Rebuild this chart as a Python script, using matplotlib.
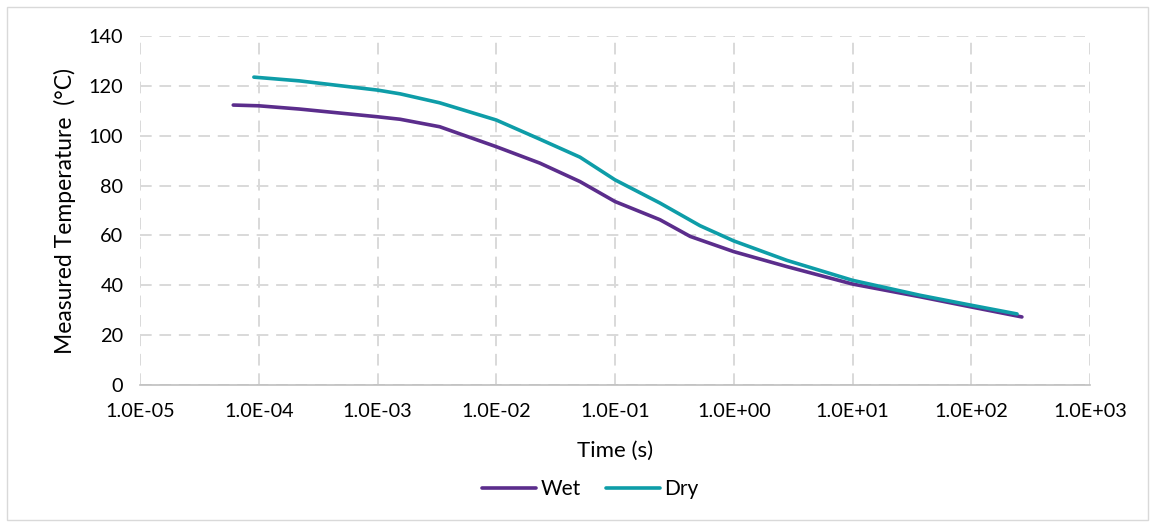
import matplotlib.pyplot as plt
from matplotlib.ticker import FixedLocator, FuncFormatter
from matplotlib.patches import Rectangle

plt.rcParams['font.family'] = ['Lato', 'DejaVu Sans']

# values
wet_time = [6.1e-5, 1e-4, 2.2e-4, 1e-3, 1.55e-3, 3.34e-3, 1e-2, 2.33e-2, 5.07e-2,
            1e-1, 0.239, 0.43, 1.0, 2.8, 10.0, 37.0, 100.0, 267.0]
wet_temp = [112.3, 112.0, 110.7, 107.6, 106.6, 103.6, 95.6, 89.0, 81.6,
            73.6, 66.3, 59.6, 53.5, 47.5, 40.5, 35.4, 31.3, 27.3]

dry_time = [9.1e-5, 2.2e-4, 1e-3, 1.55e-3, 3.34e-3, 1e-2, 2.33e-2, 5.07e-2,
            1e-1, 0.239, 0.52, 1.0, 2.8, 10.0, 37.0, 100.0, 243.0]
dry_temp = [123.5, 122.0, 118.3, 116.8, 113.2, 106.3, 98.6, 91.4,
            82.3, 73.0, 63.9, 57.8, 50.0, 42.0, 36.0, 32.0, 28.5]

x_ticks = [1e-5, 1e-4, 1e-3, 1e-2, 1e-1, 1e0, 1e1, 1e2, 1e3]
y_ticks = [0, 20, 40, 60, 80, 100, 120, 140]

WET_COLOR = '#5B2D8C'
DRY_COLOR = '#0E9DA8'
GRID_COLOR = '#D9D9D9'

fig = plt.figure(figsize=(11.56, 5.23), dpi=100)
ax = fig.add_axes([140 / 1156, 1 - 385 / 523, 950 / 1156, 349 / 523])

# outer chart border
fig.patches.append(Rectangle((7 / 1156, 3 / 523), 1141 / 1156, 513 / 523,
                             transform=fig.transFigure, fill=False,
                             edgecolor='#D9D9D9', linewidth=1))

ax.plot(wet_time, wet_temp, color=WET_COLOR, lw=2.6, label='Wet',
        solid_capstyle='round', solid_joinstyle='round', zorder=3)
ax.plot(dry_time, dry_temp, color=DRY_COLOR, lw=2.6, label='Dry',
        solid_capstyle='round', solid_joinstyle='round', zorder=3)

ax.set_xscale('log')
ax.set_xlim(1e-5, 1e3)
ax.set_ylim(0, 140)
ax.xaxis.set_major_locator(FixedLocator(x_ticks))
ax.xaxis.set_minor_locator(FixedLocator([]))
ax.xaxis.set_major_formatter(FuncFormatter(lambda v, p: f"{v:.1E}"))
ax.yaxis.set_major_locator(FixedLocator(y_ticks))

ax.grid(True, which='major', color=GRID_COLOR, linestyle=(0, (6, 4)), lw=1.4)
ax.set_axisbelow(True)
for s in ['top', 'right', 'left']:
    ax.spines[s].set_visible(False)
ax.spines['bottom'].set_color('#BFBFBF')
ax.spines['bottom'].set_linewidth(1.2)

ax.tick_params(axis='both', length=0, labelsize=14.3, colors='#000000')
ax.tick_params(axis='x', pad=13)
ax.tick_params(axis='y', pad=12)

ax.set_xlabel('Time (s)', fontsize=16, labelpad=15)
ax.set_ylabel('Measured Temperature  (\u00b0C)', fontsize=16.5, labelpad=9)

fig.legend(loc='center', bbox_to_anchor=(590 / 1156, 1 - 489 / 523), ncol=2,
           frameon=False, fontsize=15, handlelength=2.6, handletextpad=0.2,
           columnspacing=1.2)

fig.savefig('out.png', dpi=100)
